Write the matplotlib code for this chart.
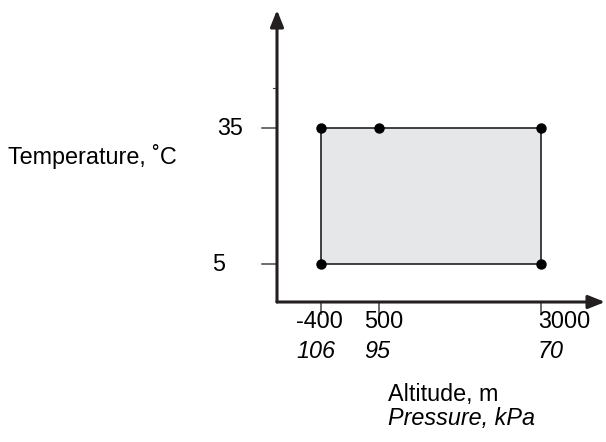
import matplotlib
matplotlib.use("Agg")
import matplotlib.pyplot as plt
from matplotlib.patches import Rectangle

plt.rcParams['font.family'] = ['Liberation Sans', 'DejaVu Sans']

# operating envelope
alt_range = [-400, 3000]
temp_range = [5, 35]
# corner / marker points (altitude m, temperature C)
pt_alt = [-400, 500, 3000, -400, 3000]
pt_temp = [35, 35, 35, 5, 5]
# tick labels
alt_ticks = [-400, 500, 3000]
alt_labels = ["-400", "500", "3000"]
press_labels = ["106", "95", "70"]
temp_ticks = [5, 35]
temp_labels = ["5", "35"]

W, H = 606, 442
FS = 16.8
fig = plt.figure(figsize=(W / 100, H / 100), dpi=100)
# axes box: left edge = y axis line, bottom edge = x axis line
x0, x1 = 277, 605
y0, y1 = 302, 10
ax = fig.add_axes([x0 / W, 1 - y0 / H, (x1 - x0) / W, (y0 - y1) / H])
ax.set_xlim(-1080, 3990)
ax.set_ylim(-3.3, 61)
ax.set_axis_off()

dark = '#231f20'

# shaded envelope
rect = Rectangle((alt_range[0], temp_range[0]), alt_range[1] - alt_range[0],
                 temp_range[1] - temp_range[0], facecolor='#e6e7e8',
                 edgecolor=dark, lw=1.2, zorder=2)
ax.add_patch(rect)
ax.plot(pt_alt, pt_temp, 'o', color='black', ms=6.5, zorder=3, clip_on=False)

# axes with arrows
astyle = '-|>,head_length=1.0,head_width=0.4'
ax.annotate('', xy=(0, 1), xytext=(0, 0), xycoords='axes fraction',
            arrowprops=dict(arrowstyle=astyle, color=dark, lw=2.2,
                            shrinkA=0, shrinkB=0))
ax.annotate('', xy=(1, 0), xytext=(0, 0), xycoords='axes fraction',
            arrowprops=dict(arrowstyle=astyle, color=dark, lw=2.2,
                            shrinkA=0, shrinkB=0))

# y ticks (left of axis)
trans_y = ax.get_yaxis_transform()
for t in temp_ticks:
    ax.plot([-0.045, 0], [t, t], color='#444444', lw=1.1, transform=trans_y,
            clip_on=False)
ax.plot([-0.012, 0], [43.8, 43.8], color='#444444', lw=0.8, transform=trans_y,
        clip_on=False)
ax.text(-0.105, 35, "35", transform=trans_y, ha='right', va='center', fontsize=FS)
ax.text(-0.177, 5, "5", transform=trans_y, ha='center', va='center', fontsize=FS)

# x ticks (below axis)
trans_x = ax.get_xaxis_transform()
for t in alt_ticks:
    ax.plot([t, t], [0, -0.04], color='#444444', lw=1.1, transform=trans_x,
            clip_on=False)
offsets = [-25, -15, -3]
for t, lab, plab, off in zip(alt_ticks, alt_labels, press_labels, offsets):
    ax.annotate(lab, xy=(t, 0), xycoords=trans_x, xytext=(off * 0.72, -20 * 0.72),
                textcoords='offset points', ha='left', va='center', fontsize=FS)
    ax.annotate(plab, xy=(t, 0), xycoords=trans_x, xytext=(off * 0.72, -49 * 0.72),
                textcoords='offset points', ha='left', va='center', fontsize=FS,
                style='italic')

# axis titles
fig.text(388 / W, 1 - 395 / H, "Altitude, m", ha='left', va='center', fontsize=FS)
fig.text(388 / W, 1 - 418 / H, "Pressure, kPa", ha='left', va='center',
         fontsize=FS, style='italic')
fig.text(8 / W, 1 - 156 / H, "Temperature, ˚C", ha='left', va='center', fontsize=FS)

fig.savefig("out.png", dpi=100)
